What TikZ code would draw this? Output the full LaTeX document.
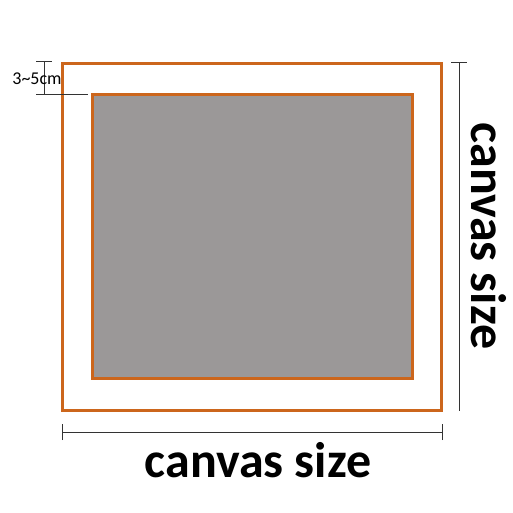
\documentclass[tikz,border=0pt]{standalone}
\usepackage{fontspec}
\setmainfont{Carlito}
\usepackage{xcolor}

\definecolor{frameorange}{RGB}{204,102,28}
\definecolor{paintgray}{RGB}{155,152,152}

\tikzset{
	frame/.style={draw=frameorange, line width=3pt},
	dimline/.style={draw=black!80, line width=1pt},
	dimtext/.style={font=\bfseries\fontsize{50}{50}\selectfont, inner sep=0pt},
}

\begin{document}
\begin{tikzpicture}[x=1pt,y=-1pt]

\useasboundingbox (0,0) rectangle (513,513);

\def \t {8}

% canvas and painting
\draw[frame] (62,64) rectangle (441,410);
\draw[frame, fill=paintgray] (92,95) rectangle (412,378);

% margin 3~5cm
\coordinate (mtop) at (44,62);
\coordinate (mbot) at (44,95);
\draw[dimline] (mtop)--(mbot);
\draw[dimline] ([xshift=-\t]mtop)--([xshift=\t]mtop);
\draw[dimline] ([xshift=-\t]mbot)--([xshift=44]mbot);
\node[font=\fontsize{18}{18}\selectfont, inner sep=0pt] (margin) at (37,79) {3\string~5cm};

% height
\coordinate (htop) at (459,63);
\coordinate (hbot) at (459,411);
\draw[dimline] (htop)--(hbot);
\draw[dimline] ([xshift=-\t]htop)--([xshift=\t]htop);
\node[dimtext, rotate=-90] (height) at (489,236) {canvas size};

% width
\coordinate (wleft) at (62,432);
\coordinate (wright) at (442,432);
\draw[dimline] (wleft)--(wright);
\draw[dimline] ([yshift=-\t]wleft)--([yshift=\t]wleft);
\draw[dimline] ([yshift=-\t]wright)--([yshift=\t]wright);
\node[dimtext] (width) at (258,460) {canvas size};

\end{tikzpicture}
\end{document}
